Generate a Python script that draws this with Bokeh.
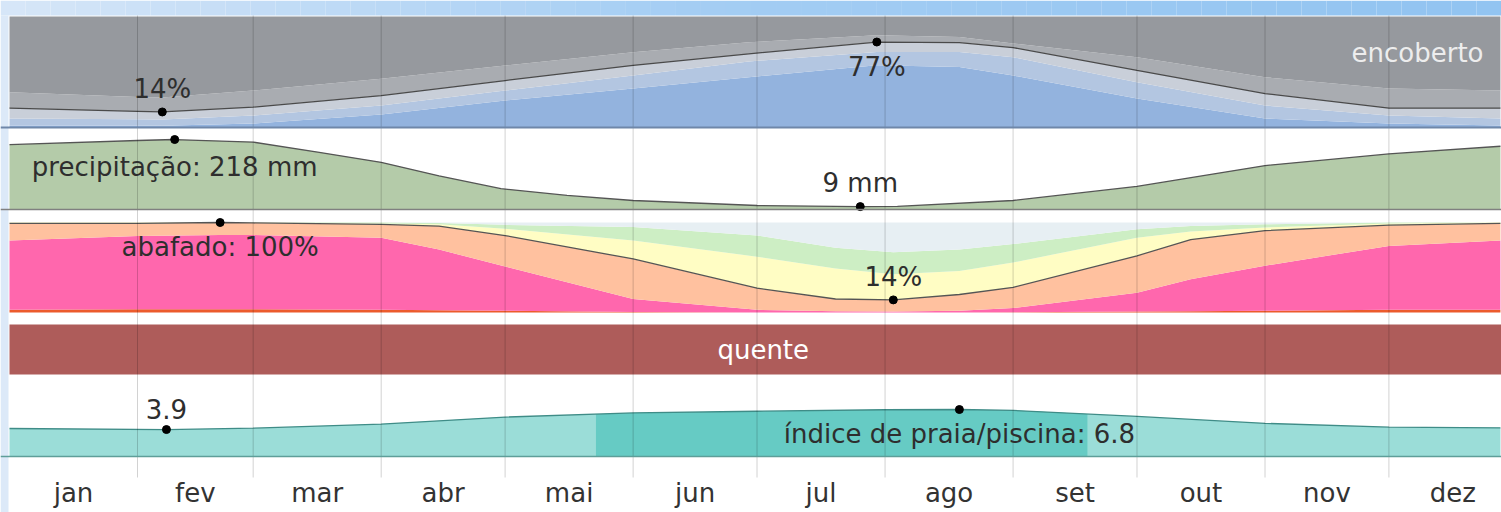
import numpy as np
from bokeh.plotting import figure
from bokeh.models import Range1d, Span
from bokeh.core.properties import value
from bokeh.embed import file_html
from bokeh.resources import INLINE

# ---------------- data ----------------
months = ["jan", "fev", "mar", "abr", "mai", "jun", "jul", "ago", "set", "out", "nov", "dez"]
month_lengths = [31, 28, 31, 30, 31, 30, 31, 31, 30, 31, 30, 31]

# cloud cover categories (% of time), by day of year
cloud_days = [0, 31, 37, 59, 90, 120, 151, 179, 210, 230, 243, 273, 304, 334, 361]
pct_clear = [1.8, 1.8, 1.6, 3.6, 11.7, 24.3, 35.1, 45.3, 56.0, 54.5, 46.8, 26.1, 8.1, 3.6, 1.8]
pct_mostly_clear = [6.3, 5.7, 5.6, 7.2, 8.1, 9.0, 11.7, 14.2, 12.0, 13.5, 16.5, 14.7, 11.7, 7.2, 6.3]
pct_partly_cloudy = [9.3, 7.1, 6.8, 7.5, 9.0, 9.0, 9.1, 6.9, 9.0, 8.5, 8.7, 10.6, 10.8, 6.6, 9.3]
pct_mostly_cloudy = [14.4, 12.9, 13.0, 15.0, 15.2, 13.6, 11.9, 10.4, 6.0, 5.0, 3.7, 11.9, 14.7, 17.7, 15.9]

# monthly rainfall (mm, 31-day sliding)
precip_days = [0, 31, 40, 59, 75, 90, 104, 119, 135, 151, 181, 206, 215, 243, 273, 304, 334, 361]
precip_mm = [202, 215, 218, 210, 178, 147, 105, 65, 44, 28, 12.5, 9, 9.5, 28, 72, 137, 173, 197]

# humidity comfort levels (% of time)
humid_days = [0, 31, 51, 59, 90, 104, 120, 151, 181, 200, 214, 230, 243, 273, 286, 304, 334, 361]
pct_miserable = [3, 3.5, 3.5, 3.5, 3, 2.5, 2, 0.5, 0, 0, 0, 0, 0.3, 1, 1.5, 2, 3, 3]
pct_oppressive = [77, 81.5, 82.5, 82.5, 80, 67.5, 49, 14.5, 3, 1.5, 1, 2, 4.7, 21, 35.5, 50, 71, 77]
pct_muggy = [19, 14, 14, 13.5, 15, 26, 34.5, 44.5, 24, 13.5, 13, 18, 23, 41, 44, 39, 23, 19]
pct_humid = [1, 1, 0, 0.5, 1, 2, 7.5, 20.5, 35, 34, 28.5, 26, 27.6, 20, 9, 3.4, 2, 1]
pct_comfortable = [0, 0, 0, 0, 1, 1.5, 4.4, 15, 23.6, 23, 24.5, 24, 20.4, 9.6, 6, 3.6, 1, 0]

# temperature category
temp_category = ["quente"]
temp_days = [0, 365]

# beach / pool score
beach_days = [0, 38, 59, 90, 120, 151, 181, 212, 230, 243, 273, 304, 334, 361]
beach_score = [4.05, 3.9, 4.1, 4.7, 5.7, 6.3, 6.55, 6.77, 6.8, 6.67, 5.8, 4.8, 4.25, 4.15]
best_season_days = [142, 261]

# ---------------- layout ----------------
W, H = 1501, 512
TOP = 0
BOTTOM = TOP + H
PX_PER_DAY = 4.13
LEFT_PAD = 9
x0 = -LEFT_PAD / PX_PER_DAY
x1 = x0 + W / PX_PER_DAY

FONT = value("DejaVu Sans")
FS = "26px"
TXT = "#2E2E2E"


def band_range(lo, hi, y_bot, y_top):
    s = (y_bot - y_top) / (hi - lo)
    return Range1d(lo - (BOTTOM - y_bot) / s, lo + (y_bot - TOP) / s)


p = figure(width=W, height=H, output_backend="svg", toolbar_location=None,
           x_range=Range1d(x0, x1), y_range=Range1d(BOTTOM, TOP),
           x_axis_location=None, y_axis_location=None,
           min_border=0, min_border_left=0, min_border_right=0,
           min_border_top=0, min_border_bottom=0,
           outline_line_color=None, background_fill_color="white",
           border_fill_color="white")
p.grid.grid_line_color = None

p.extra_y_ranges = {
    "cloud": band_range(0, 100, 127, 16),
    "precip": band_range(0, 243, 209, 131),
    "humid": band_range(0, 100, 312, 222),
    "temp": band_range(0, 1, 374, 324),
    "beach": band_range(0, 11, 456, 380),
}

# decorative page background (blue frame at top and left)
sx = np.linspace(x0, x1, 61)
c0 = np.array([214, 230, 248])
c1 = np.array([165, 206, 244])
c2 = np.array([146, 196, 241])
cols = []
for t in np.linspace(0, 1, 60):
    c = c0 + (c1 - c0) * (t / 0.45) if t < 0.45 else c1 + (c2 - c1) * ((t - 0.45) / 0.55)
    cols.append("#%02x%02x%02x" % tuple(int(v) for v in c))
p.quad(left=sx[:-1], right=sx[1:], bottom=15, top=TOP, fill_color=cols, line_color=None)
p.quad(left=x0, right=x0 + 8 / PX_PER_DAY, bottom=BOTTOM, top=15,
       fill_color="#DCE9F8", line_color=None)

# ---- clouds ----
cd = np.array(cloud_days, dtype=float)
cum = np.cumsum([pct_clear, pct_mostly_clear, pct_partly_cloudy, pct_mostly_cloudy], axis=0)
bounds = [np.zeros_like(cd)] + [cum[i] for i in range(4)] + [np.full_like(cd, 100.0)]
cloud_colors = ["#93B3DE", "#B3C6E1", "#C9CFD9", "#A9ACB1", "#96999E"]
for i, col in enumerate(cloud_colors):
    p.varea(x=cd, y1=bounds[i], y2=bounds[i + 1], fill_color=col, y_range_name="cloud")
clear_line = cum[2]
p.line(cd, clear_line, line_color="#4a4a4a", line_width=1.3, y_range_name="cloud")
p.add_layout(Span(location=0, dimension="width", line_color="#6F87A9", line_width=2,
                  y_range_name="cloud"))

# ---- precipitation ----
pdd = np.array(precip_days, dtype=float)
pm = np.array(precip_mm, dtype=float)
p.varea(x=pdd, y1=0, y2=pm, fill_color="#B4CBA9", y_range_name="precip")
p.line(pdd, pm, line_color="#555555", line_width=1.3, y_range_name="precip")
p.add_layout(Span(location=0, dimension="width", line_color="#808080", line_width=1.5,
                  y_range_name="precip"))

# ---- humidity ----
hd = np.array(humid_days, dtype=float)
hcum = np.cumsum([pct_miserable, pct_oppressive, pct_muggy, pct_humid, pct_comfortable], axis=0)
hb = [np.zeros_like(hd)] + [hcum[i] for i in range(5)] + [np.full_like(hd, 100.0)]
humid_colors = ["#EC5B2C", "#FF67AD", "#FFC19F", "#FFFDC4", "#CDEEC4", "#E7EFF3"]
for i, col in enumerate(humid_colors):
    p.varea(x=hd, y1=hb[i], y2=hb[i + 1], fill_color=col, y_range_name="humid")
muggy_line = hcum[2]
p.line(hd, muggy_line, line_color="#555555", line_width=1.3, y_range_name="humid")

# ---- temperature ----
p.quad(left=temp_days[0], right=temp_days[1], bottom=0, top=1, fill_color="#AE5C5A",
       line_color=None, y_range_name="temp")
p.text(x=[(temp_days[0] + temp_days[1]) / 2], y=[0.5], text=temp_category,
       text_align="center", text_baseline="middle", text_font=FONT, text_font_size=FS,
       text_color="white", y_range_name="temp")

# ---- beach ----
bd = np.array(beach_days, dtype=float)
bs = np.array(beach_score, dtype=float)
p.varea(x=bd, y1=0, y2=bs, fill_color="#9BDDD8", y_range_name="beach")
bx = np.concatenate([[best_season_days[0]],
                     bd[(bd > best_season_days[0]) & (bd < best_season_days[1])],
                     [best_season_days[1]]])
p.varea(x=bx, y1=0, y2=np.interp(bx, bd, bs), fill_color="#66CBC4", y_range_name="beach")
p.line(bd, bs, line_color="#3F8C87", line_width=1.3, y_range_name="beach")
p.add_layout(Span(location=0, dimension="width", line_color="#5E9E99", line_width=1.5,
                  y_range_name="beach"))

# ---- month grid lines + labels ----
month_starts = np.concatenate([[0], np.cumsum(month_lengths)[:-1]])
month_mids = month_starts + np.array(month_lengths) / 2.0
p.segment(x0=month_starts[1:], y0=15, x1=month_starts[1:], y1=477, line_color="black",
          line_alpha=0.18, line_width=1)
p.text(x=month_mids, y=492, text=months, text_align="center", text_baseline="middle",
       text_font=FONT, text_font_size=FS, text_color="#333333")


# ---- annotations ----
def mark(xv, yv, label, rng, dy):
    p.scatter([xv], [yv], size=8, color="black", y_range_name=rng)
    p.text(x=[xv], y=[yv], text=[label], y_offset=dy, text_align="center",
           text_baseline="middle", text_font=FONT, text_font_size=FS, text_color=TXT,
           y_range_name=rng)


i = int(np.argmin(clear_line)); mark(cd[i], clear_line[i], f"{clear_line[i]:.0f}%", "cloud", -23)
i = int(np.argmax(clear_line)); mark(cd[i], clear_line[i], f"{clear_line[i]:.0f}%", "cloud", 25)
i = int(np.argmax(pm)); mark(pdd[i], pm[i], f"precipitação: {pm[i]:.0f} mm", "precip", 27)
i = int(np.argmin(pm)); mark(pdd[i], pm[i], f"{pm[i]:.0f} mm", "precip", -24)
i = int(np.argmax(muggy_line)); mark(hd[i], muggy_line[i], f"abafado: {muggy_line[i]:.0f}%", "humid", 24)
i = int(np.argmin(muggy_line)); mark(hd[i], muggy_line[i], f"{muggy_line[i]:.0f}%", "humid", -23)
i = int(np.argmin(bs)); mark(bd[i], bs[i], f"{bs[i]:.1f}", "beach", -21)
i = int(np.argmax(bs)); mark(bd[i], bs[i], f"índice de praia/piscina: {bs[i]:.1f}", "beach", 24)

p.text(x=[x1], y=[100], text=["encoberto"], x_offset=-18, y_offset=36, text_align="right",
       text_baseline="middle", text_font=FONT, text_font_size=FS, text_color="#EDEDED",
       y_range_name="cloud")

open("out.html", "w").write(file_html(p, INLINE))
